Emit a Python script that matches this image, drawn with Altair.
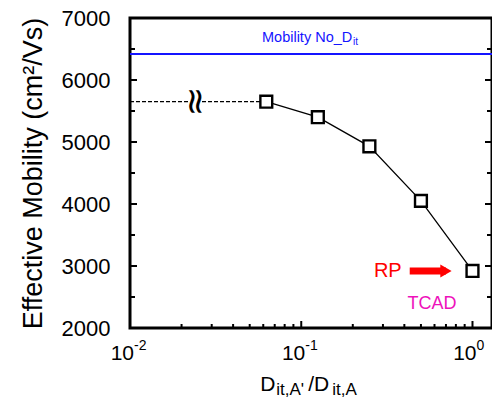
import altair as alt
import pandas as pd

FONT = "Liberation Sans"

# data
ratio = [0.0625, 0.125, 0.25, 0.5, 1.0]
mobility = [5650, 5400, 4930, 4050, 2920]
dash_x = [0.01, 0.0625]
dash_y = [5650, 5650]
break_x = [0.024]
no_dit_mobility = 6420
x_domain = [0.01, 1.3]
y_domain = [2000, 7000]
y_major = [2000, 3000, 4000, 5000, 6000, 7000]
y_minor = [2500, 3500, 4500, 5500, 6500]
x_major = [0.01, 0.1, 1.0]
x_minor = [0.02, 0.03, 0.04, 0.05, 0.06, 0.07, 0.08, 0.09,
           0.2, 0.3, 0.4, 0.5, 0.6, 0.7, 0.8, 0.9]
x_exp = ["-2", "-1", "0"]
arrow_x = [0.43, 0.70]
arrow_y = [2920, 2920]
tcad_pos = (0.58, 2380)

W, H = 362, 310

xs = alt.Scale(type="log", domain=x_domain)
ys = alt.Scale(domain=y_domain)

y_axis = alt.Axis(values=y_major, format="d", labelFont=FONT, labelFontSize=22, labelColor="black",
                  ticks=False, domain=False, grid=False, labelPadding=20,
                  title="Effective Mobility (cm²/Vs)", titleFont=FONT, titleFontSize=27,
                  titleFontWeight="normal", titleColor="black", titlePadding=14)


def X(f="x"):
    return alt.X(f + ":Q", scale=xs, axis=None)


def Y(f="y"):
    return alt.Y(f + ":Q", scale=ys, axis=y_axis)


main = pd.DataFrame({"x": ratio, "y": mobility})
dash = pd.DataFrame({"x": dash_x, "y": dash_y})

line = alt.Chart(main).mark_line(color="black", strokeWidth=1.3).encode(x=X(), y=Y())
pts = alt.Chart(main).mark_point(shape="square", size=140, filled=True, fill="white",
                                  stroke="black", strokeWidth=2.4, opacity=1).encode(x=X(), y=Y())
dashed = alt.Chart(dash).mark_line(color="black", strokeWidth=1.3, strokeDash=[4, 2]).encode(x=X(), y=Y())

brk_df = pd.DataFrame({"x": break_x, "y": [dash_y[0]]})
brk_bg = alt.Chart(brk_df).mark_point(shape="square", size=150, filled=True, color="white",
                                      opacity=1).encode(x=X(), y=Y())
brk = alt.Chart(brk_df).mark_text(text="≈", angle=90, fontSize=36, font="DejaVu Sans", color="black",
                                  baseline="middle", align="center").encode(x=X(), y=Y())

blue_df = pd.DataFrame({"x": [x_domain[0]], "x2": [x_domain[1]], "y": [no_dit_mobility]})
blue = alt.Chart(blue_df).mark_rule(color="#1414ff", strokeWidth=2).encode(x=X(), x2="x2:Q", y=Y())
blue_txt = alt.Chart(blue_df).mark_text(
    font=FONT, fontSize=14.5, color="#1414ff", align="left", baseline="alphabetic", text="Mobility No_D",
    dy=-12).encode(x=alt.value(132), y=Y())
blue_sub = alt.Chart(blue_df).mark_text(
    font=FONT, fontSize=10, color="#1414ff", align="left", baseline="alphabetic", text="it",
    dy=-9).encode(x=alt.value(223), y=Y())

arrow_df = pd.DataFrame({"x": arrow_x[:1], "x2": arrow_x[1:], "y": arrow_y[:1]})
arrow = alt.Chart(arrow_df).mark_rule(color="#ff0000", strokeWidth=7).encode(x=X(), x2="x2:Q", y=Y())
head = alt.Chart(arrow_df).mark_point(
    shape="triangle-right", size=170, filled=True, color="#ff0000", opacity=1).encode(x=X("x2"), y=Y())
rp = alt.Chart(arrow_df).mark_text(
    font=FONT, fontSize=20, color="#ff0000", align="right", baseline="middle", dx=-8, text="RP").encode(
    x=X(), y=Y())
tcad_df = pd.DataFrame({"x": [tcad_pos[0]], "y": [tcad_pos[1]]})
tcad = alt.Chart(tcad_df).mark_text(
    font=FONT, fontSize=18, color="#ee11bb", align="center", baseline="middle", text="TCAD").encode(
    x=X(), y=Y())

# ticks (inward)
tk = []
for vals, ln in ((y_major, 7), (y_minor, 5)):
    df = pd.DataFrame({"y": vals})
    tk.append(alt.Chart(df).mark_rule(color="black", strokeWidth=2).encode(
        y=Y(), x=alt.value(0), x2=alt.value(ln)))
    tk.append(alt.Chart(df).mark_rule(color="black", strokeWidth=2).encode(
        y=Y(), x=alt.value(W), x2=alt.value(W - ln)))
for vals, ln in ((x_major, 7), (x_minor, 4)):
    df = pd.DataFrame({"x": vals})
    tk.append(alt.Chart(df).mark_rule(color="black", strokeWidth=2).encode(
        x=X(), y=alt.value(H), y2=alt.value(H - ln)))

# x tick labels 10^n
lab = pd.DataFrame({"x": x_major, "b": ["10"] * 3, "e": x_exp})
lab_b = alt.Chart(lab).mark_text(font=FONT, fontSize=21, color="black", align="right",
                                 baseline="alphabetic", dx=4).encode(
    x=X(), y=alt.value(H + 32), text="b:N")
lab_e = alt.Chart(lab).mark_text(font=FONT, fontSize=14, color="black", align="left",
                                 baseline="alphabetic", dx=4).encode(
    x=X(), y=alt.value(H + 22), text="e:N")

# x title  D_it,A'/D_it,A
title_df = pd.DataFrame({"x": [0.1]})
parts = [("D", 21, -41, 0), ("it,A'", 17, -25, 4), ("/D", 21, 7, 0), ("it,A", 17, 31, 4)]
xt = []
for txt, fs, ddx, ddy in parts:
    xt.append(alt.Chart(title_df).mark_text(
        font=FONT, fontSize=fs, color="black", align="left", baseline="alphabetic", text=txt,
        dx=ddx).encode(x=X(), y=alt.value(H + 63 + ddy)))

chart = alt.layer(
    blue, dashed, brk_bg, brk, line, pts, arrow, head, rp, tcad, blue_txt, blue_sub,
    *tk, lab_b, lab_e, *xt
).properties(
    width=W, height=H,
    autosize=alt.AutoSizeParams(type="none"),
    padding={"left": 122, "top": 10, "right": 0, "bottom": 70},
).configure(background="white").configure_view(stroke="black", strokeWidth=3)

chart.save("out.html", embed_options={"renderer": "svg", "actions": False})
